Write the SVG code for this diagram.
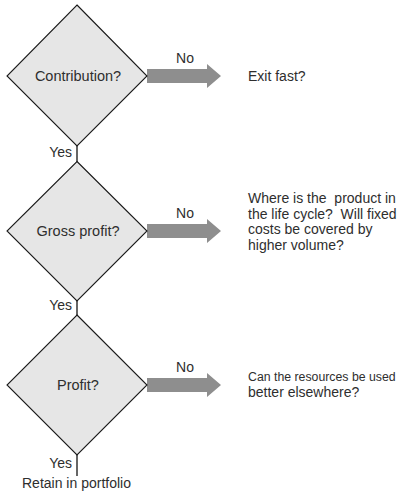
<svg xmlns="http://www.w3.org/2000/svg" width="401" height="493" viewBox="0 0 401 493">
<style>
.bg{fill:#ffffff}
.dia{fill:#e6e6e6;stroke:#1a1a1a;stroke-width:1.1}
.arr{fill:#8e8e8e}
.ln{stroke:#333333;stroke-width:1.5;fill:none}
text{font-family:"Liberation Sans",Arial,sans-serif;font-size:14px;fill:#2e2e2e}
.c{text-anchor:middle}
.r{text-anchor:end}
</style>
<rect class="bg" x="0" y="0" width="401" height="493"/>
<g id="connectors">
<line class="ln" x1="77" y1="146" x2="77" y2="162"/>
<line class="ln" x1="77" y1="301" x2="77" y2="315"/>
<line class="ln" x1="77" y1="455" x2="77" y2="476"/>
<path class="arr" d="M147,69 H207 V64 L221,76 L207,88 V83 H147 Z"/>
<path class="arr" d="M147,224 H207 V219 L221,231 L207,243 V238 H147 Z"/>
<path class="arr" d="M147,378 H207 V373 L221,385 L207,397 V392 H147 Z"/>
<text class="c" x="185" y="63">No</text>
<text class="c" x="185" y="218">No</text>
<text class="c" x="185" y="372">No</text>
<text class="r" x="72" y="157">Yes</text>
<text class="r" x="72" y="310">Yes</text>
<text class="r" x="72" y="468">Yes</text>
</g>
<g id="node-contribution">
<polygon class="dia" points="77,5 147,76 77,146 7,76"/>
<text class="c" x="78" y="81" style="font-size:14.5px">Contribution?</text>
</g>
<g id="node-gross-profit">
<polygon class="dia" points="77,161.5 147,231 77,301 7,231"/>
<text class="c" x="78" y="236" style="font-size:14.5px">Gross profit?</text>
</g>
<g id="node-profit">
<polygon class="dia" points="77,315 147,385 77,455 7,385"/>
<text class="c" x="78" y="390" style="font-size:14.5px">Profit?</text>
</g>
<g id="node-exit">
<text x="248" y="81">Exit fast?</text>
</g>
<g id="node-lifecycle">
<text x="248" y="203" xml:space="preserve">Where is the  product in</text>
<text x="248" y="218.5" xml:space="preserve">the life cycle?  Will fixed</text>
<text x="248" y="234">costs be covered by</text>
<text x="248" y="249.5">higher volume?</text>
</g>
<g id="node-resources">
<text x="248" y="381" style="font-size:12.3px">Can the resources be used</text>
<text x="248" y="397">better elsewhere?</text>
</g>
<g id="node-retain">
<text x="22" y="488">Retain in portfolio</text>
</g>
</svg>
